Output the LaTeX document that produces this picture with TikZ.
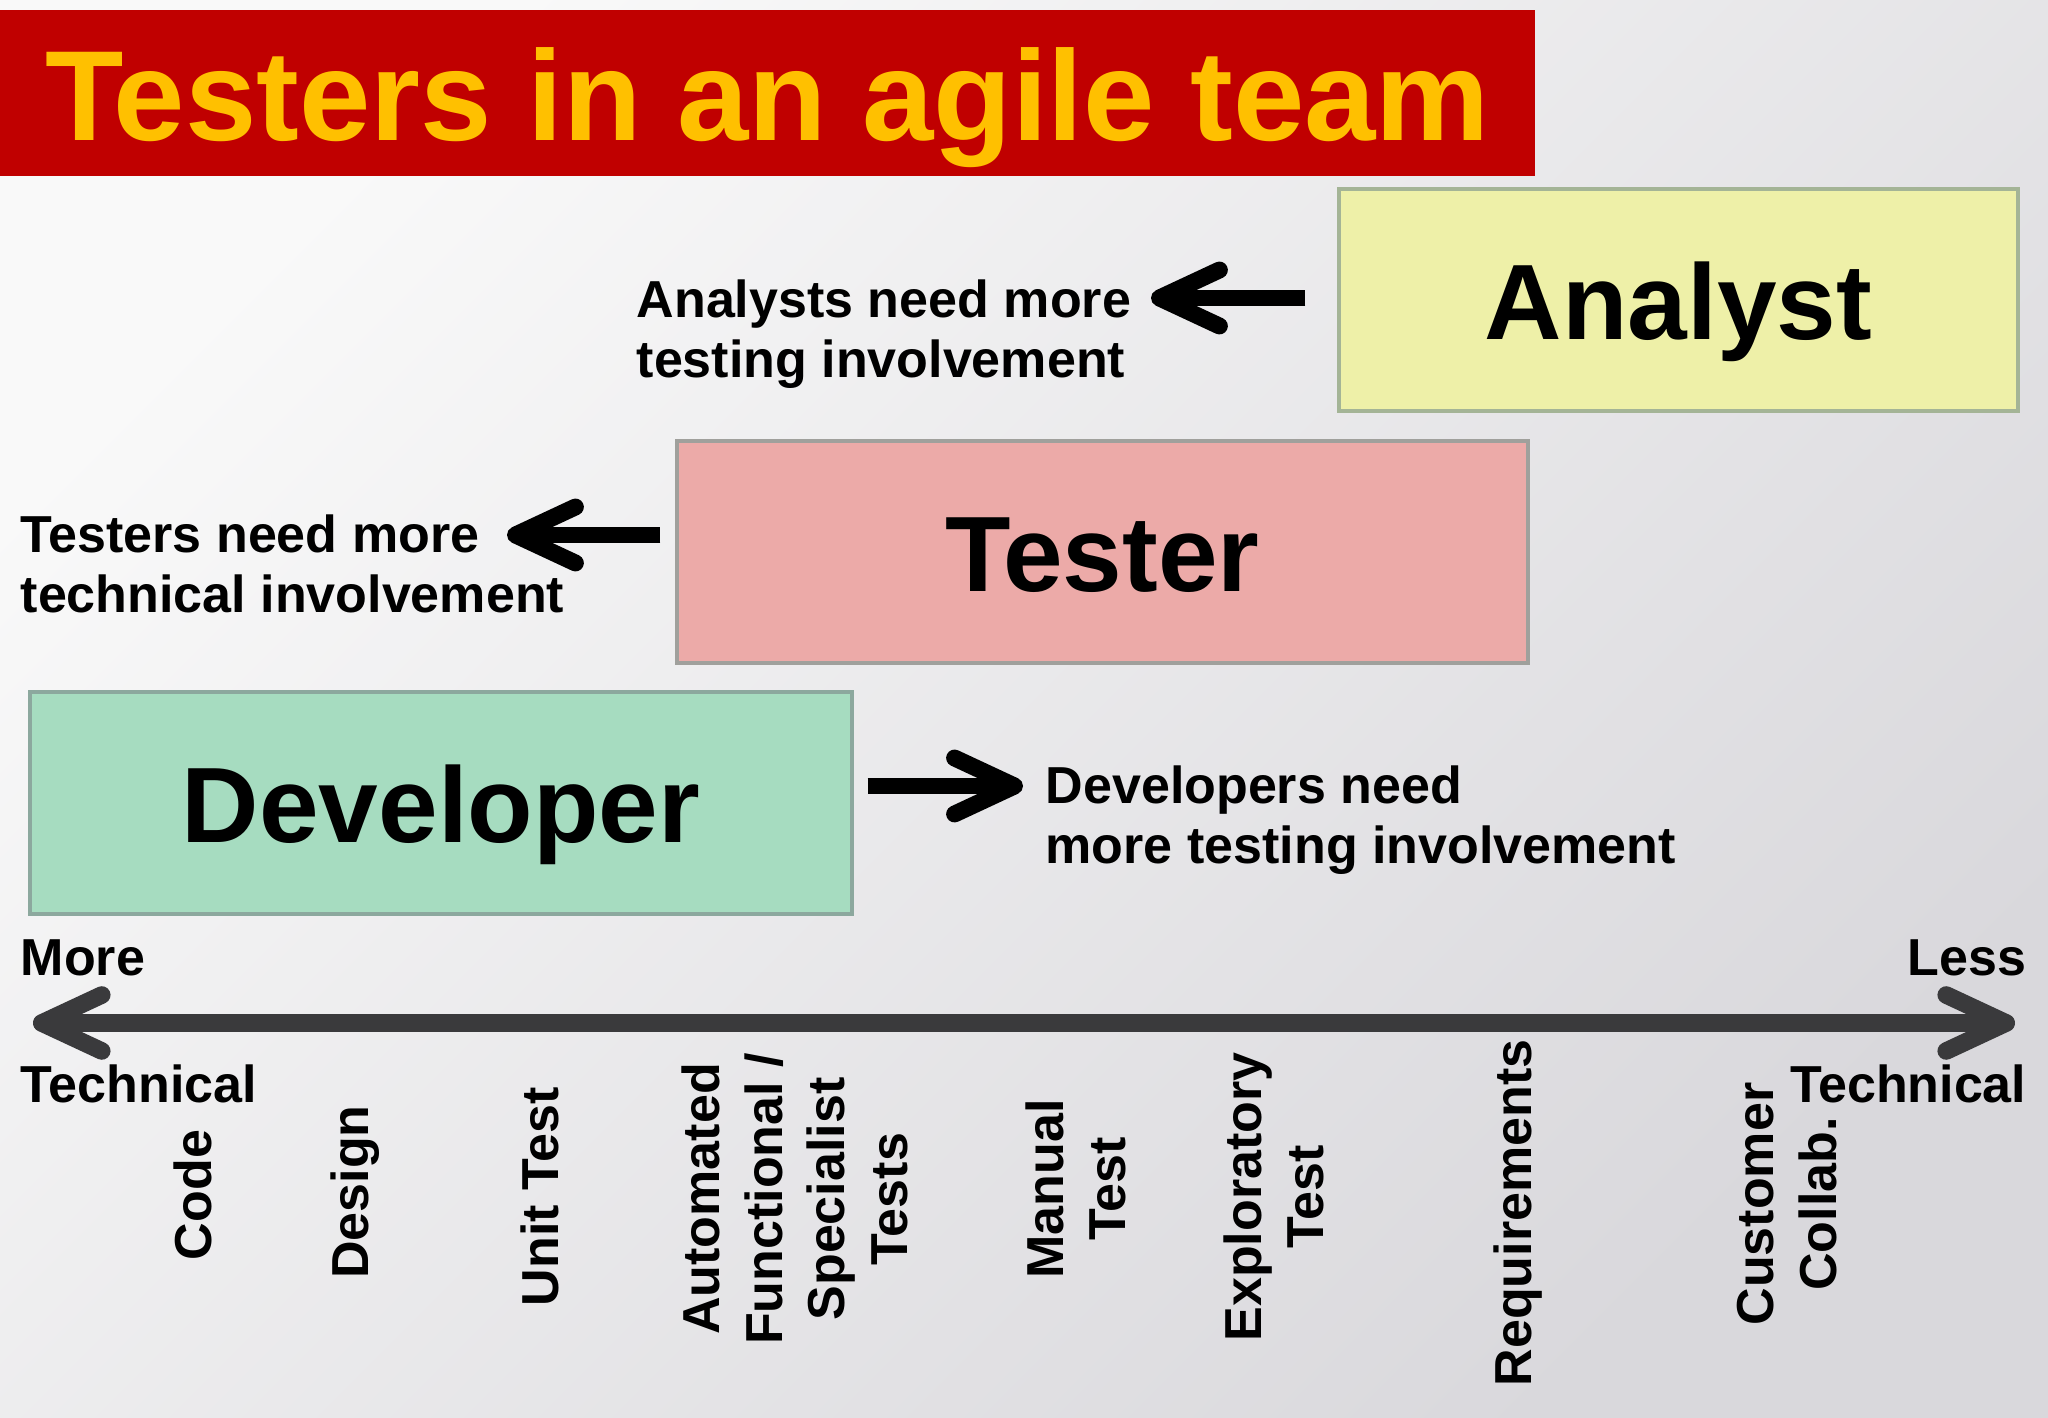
\documentclass[tikz,border=0pt]{standalone}
\usepackage{fontspec}
\setmainfont{Liberation Sans}
\usetikzlibrary{arrows.meta}
\definecolor{bgtop}{RGB}{249,249,249}
\definecolor{bgbot}{RGB}{217,216,220}
\definecolor{titlered}{RGB}{192,0,0}
\definecolor{titlegold}{RGB}{255,192,0}
\definecolor{analystfill}{RGB}{238,240,168}
\definecolor{analystline}{RGB}{164,180,150}
\definecolor{testerfill}{RGB}{236,170,168}
\definecolor{testerline}{RGB}{160,160,156}
\definecolor{devfill}{RGB}{166,220,192}
\definecolor{devline}{RGB}{140,168,158}
\definecolor{axisgray}{RGB}{58,58,60}
\begin{document}
\begin{tikzpicture}[
    every node/.style={inner sep=0pt, font=\bfseries},
    titlebar/.style={fill=titlered, text=titlegold, minimum width=15.35cm, minimum height=1.66cm,
      text height=0.96cm, text depth=0pt, font=\bfseries\fontsize{36.5}{40}\selectfont},
    rolebox/.style={draw, line width=0.9pt, minimum height=2.22cm, text height=0.8cm, text depth=0pt,
      font=\bfseries\fontsize{30.5}{36}\selectfont},
    note/.style={anchor=north west, align=left, font=\bfseries\fontsize{14.8}{17.2}\selectfont},
    axislabel/.style={font=\bfseries\fontsize{14.8}{17.2}\selectfont},
    activity/.style={rotate=90, align=center, font=\bfseries\fontsize{14.8}{17.8}\selectfont},
    pointer/.style={line width=4.8pt, -{Straight Barb[round, length=6mm, width=5.6mm]}},
    axisline/.style={draw=axisgray, line width=5pt,
      {Straight Barb[round, length=6mm, width=5.6mm]}-{Straight Barb[round, length=6mm, width=5.6mm]}}
  ]

  \useasboundingbox (0,0) rectangle (20.48,-14.18);
  \shade[top color=bgtop, bottom color=bgbot, shading angle=45] (0,0) rectangle (20.48,-14.18);

  \node[titlebar] (title) at (7.675,-0.93) {Testers in an agile team};

  \node[rolebox, fill=analystfill, draw=analystline, minimum width=6.79cm] (analyst) at (16.785,-3.00) {Analyst};
  \node[rolebox, fill=testerfill, draw=testerline, minimum width=8.51cm] (tester) at (11.025,-5.52) {Tester};
  \node[rolebox, fill=devfill, draw=devline, minimum width=8.22cm] (developer) at (4.41,-8.03) {Developer};

  \node[note] (anote) at (6.36,-2.79) {Analysts need more\\testing involvement};
  \node[note] (tnote) at (0.20,-5.14) {Testers need more\\technical involvement};
  \node[note] (dnote) at (10.45,-7.65) {Developers need\\more testing involvement};

  \coordinate (atip) at (11.51,-2.98);
  \coordinate (ttip) at (5.07,-5.35);
  \coordinate (dtip) at (10.23,-7.86);
  \draw[pointer, shorten <=3.2mm] (analyst.west |- atip) -- (atip);
  \draw[pointer, shorten <=1.5mm] (tester.west |- ttip) -- (ttip);
  \draw[pointer, shorten <=1.4mm] (developer.east |- dtip) -- (dtip);

  \node[axislabel, anchor=base west] (more) at (0.20,-9.76) {More};
  \node[axislabel, anchor=base east] (less) at (20.27,-9.76) {Less};
  \node[axislabel, anchor=base west] (techleft) at (0.20,-11.03) {Technical};
  \node[axislabel, anchor=base east] (techright) at (20.27,-11.03) {Technical};

  \coordinate (axleft) at (0.33,-10.23);
  \coordinate (axright) at (20.15,-10.23);
  \draw[axisline] (axleft) -- (axright);

  \node[activity] (code) at (1.93,-11.95) {Code};
  \node[activity] (design) at (3.55,-11.92) {Design};
  \node[activity] (unit) at (5.40,-11.97) {Unit Test};
  \node[activity] (automated) at (7.95,-11.99) {Automated\\Functional /\\Specialist\\Tests};
  \node[activity] (manual) at (10.76,-11.89) {Manual\\Test};
  \node[activity] (exploratory) at (12.74,-11.97) {Exploratory\\Test};
  \node[activity] (requirements) at (15.18,-12.13) {Requirements};
  \node[activity] (customer) at (17.87,-12.04) {Customer\\Collab.};

\end{tikzpicture}
\end{document}
